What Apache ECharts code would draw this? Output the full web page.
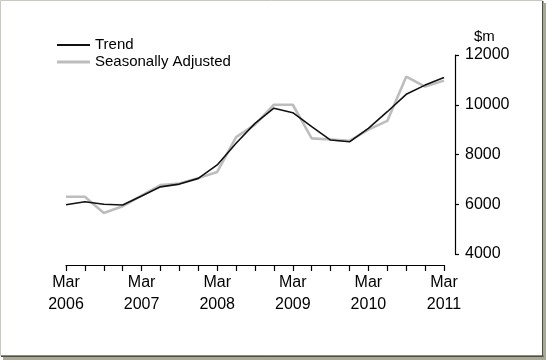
<!DOCTYPE html>
<html>
<head>
<meta charset="utf-8">
<script src="https://cdn.jsdelivr.net/npm/echarts@6/dist/echarts.min.js"></script>
<style>
html,body{margin:0;padding:0;background:#fff;}
#c{width:546px;height:361px;}
</style>
</head>
<body>
<div id="c"></div>
<script>
const categories = [
  'Mar 2006','Jun 2006','Sep 2006','Dec 2006',
  'Mar 2007','Jun 2007','Sep 2007','Dec 2007',
  'Mar 2008','Jun 2008','Sep 2008','Dec 2008',
  'Mar 2009','Jun 2009','Sep 2009','Dec 2009',
  'Mar 2010','Jun 2010','Sep 2010','Dec 2010',
  'Mar 2011'
];
const trend = [5980, 6100, 6000, 5970, 6330, 6700, 6810, 7040, 7580, 8450, 9250, 9860, 9680, 9120, 8580, 8510, 9050, 9720, 10420, 10790, 11100];
const seasonallyAdjusted = [6300, 6300, 5650, 5920, 6350, 6770, 6830, 7050, 7300, 8700, 9200, 10000, 10000, 8650, 8600, 8550, 9000, 9350, 11130, 10730, 10970];
const yTicks = [4000, 6000, 8000, 10000, 12000];
const unitLabel = '$m';

const FONT = '"Liberation Sans", Arial, sans-serif';
const TREND_COLOR = '#111111';
const SA_COLOR = '#bdbdbd';
const chart = echarts.init(document.getElementById('c'), null, {renderer: 'canvas'});
chart.setOption({
  animation: false,
  backgroundColor: '#fff',
  textStyle: {fontFamily: FONT},
  legend: [
    {
      orient: 'vertical', left: 57, top: 37.5, padding: 0,
      itemWidth: 33, itemHeight: 2, icon: 'rect',
      textStyle: {fontSize: 15, color: '#000', fontFamily: FONT},
      data: ['Trend']
    },
    {
      orient: 'vertical', left: 57, top: 54.5, padding: 0,
      itemWidth: 33, itemHeight: 3, icon: 'rect',
      textStyle: {fontSize: 15, color: '#000', fontFamily: FONT},
      data: ['Seasonally Adjusted']
    }
  ],
  grid: {left: 66, right: 102, top: 55, bottom: 107, containLabel: false},
  xAxis: {
    type: 'category',
    data: categories,
    boundaryGap: false,
    offset: 11,
    axisLine: {lineStyle: {color: '#000', width: 1.2}},
    axisTick: {interval: 0, length: 6, lineStyle: {color: '#000', width: 1.2}},
    axisLabel: {
      interval: 3,
      margin: 7,
      lineHeight: 22,
      fontSize: 16,
      color: '#000',
      fontFamily: FONT,
      formatter: v => v.replace(' ', '\n')
    },
    splitLine: {show: false}
  },
  yAxis: {
    type: 'value',
    position: 'right',
    offset: 11,
    min: yTicks[0],
    max: yTicks[yTicks.length - 1],
    interval: 2000,
    axisLine: {show: true, lineStyle: {color: '#000', width: 1.2}},
    axisTick: {show: true, length: 4, lineStyle: {color: '#000', width: 1.2}},
    axisLabel: {margin: 10, fontSize: 16, color: '#000', fontFamily: FONT, formatter: v => String(v)},
    splitLine: {show: false}
  },
  graphic: [
    {type: 'text', left: 474, top: 29, style: {text: unitLabel, fontSize: 15, fill: '#000', fontFamily: FONT}},
    {type: 'rect', shape: {x: 0.5, y: 0.5, width: 542, height: 355}, style: {fill: 'none', stroke: '#c8c8c0', lineWidth: 1}},
    {type: 'rect', shape: {x: 542, y: 1, width: 1.5, height: 356}, style: {fill: '#505040'}},
    {type: 'rect', shape: {x: 1, y: 355.5, width: 543, height: 1.5}, style: {fill: '#505040'}},
    {type: 'rect', shape: {x: 543.5, y: 3, width: 2.5, height: 357}, style: {fill: '#a8a898'}},
    {type: 'rect', shape: {x: 3, y: 357, width: 543, height: 3}, style: {fill: '#a8a898'}}
  ],
  series: [
    {
      name: 'Seasonally Adjusted',
      type: 'line',
      data: seasonallyAdjusted,
      symbol: 'none',
      lineStyle: {color: SA_COLOR, width: 2.6},
      itemStyle: {color: SA_COLOR},
      z: 2
    },
    {
      name: 'Trend',
      type: 'line',
      data: trend,
      symbol: 'none',
      lineStyle: {color: TREND_COLOR, width: 1.6},
      itemStyle: {color: TREND_COLOR},
      z: 3
    }
  ]
});
</script>
</body>
</html>
